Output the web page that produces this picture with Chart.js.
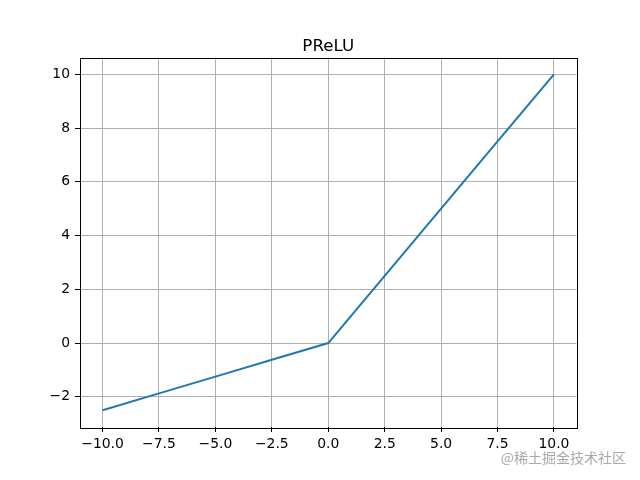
<!DOCTYPE html>
<html>
<head>
<meta charset="utf-8">
<script src="https://cdn.jsdelivr.net/npm/chart.js@4"></script>
<style>
  html, body { margin: 0; padding: 0; background: #fff; }
  #wrap { width: 640px; height: 480px; }
</style>
</head>
<body>
<div id="wrap"><canvas id="prelu" width="640" height="480"></canvas></div>
<script>
// data
const xValues = [-10, -7.5, -5, -2.5, 0, 2.5, 5, 7.5, 10];
const yValues = [-2.5, -1.875, -1.25, -0.625, 0, 2.5, 5, 7.5, 10];
const xTicks = [-10, -7.5, -5, -2.5, 0, 2.5, 5, 7.5, 10];
const yTicks = [-2, 0, 2, 4, 6, 8, 10];
const titleText = 'PReLU';

const fmtX = v => v.toFixed(1).replace('-', '\u2212');
const fmtY = v => String(v).replace('-', '\u2212');

// frame, title over the plot area and the watermark
const boxPlugin = {
  id: 'box',
  afterDraw(chart) {
    const a = chart.chartArea, c = chart.ctx;
    c.save();
    c.strokeStyle = '#000';
    c.lineWidth = 1;
    c.strokeRect(Math.round(a.left) + 0.5, Math.round(a.top) + 0.5,
      Math.round(a.right - a.left), Math.round(a.bottom - a.top));
    c.fillStyle = '#000';
    c.font = '16.7px "DejaVu Sans"';
    c.textAlign = 'center';
    c.textBaseline = 'alphabetic';
    c.fillText(titleText, (a.left + a.right) / 2, a.top - 7);
    c.fillStyle = 'rgba(160,160,160,0.9)';
    c.font = '14px "Noto Sans CJK SC", sans-serif';
    c.textAlign = 'right';
    c.textBaseline = 'middle';
    c.fillText('@稀土掘金技术社区', 626, 458);
    c.restore();
  }
};

const ctx = document.getElementById('prelu').getContext('2d');
const chart = new Chart(ctx, {
  type: 'line',
  plugins: [boxPlugin],
  data: {
    datasets: [{
      data: xValues.map((x, i) => ({ x: x, y: yValues[i] })),
      borderColor: '#1f77b4',
      borderWidth: 2,
      pointRadius: 0,
      tension: 0,
      fill: false
    }]
  },
  options: {
    responsive: false,
    animation: false,
    devicePixelRatio: 1,
    layout: { padding: { left: 0, right: 63.5, top: 57.5, bottom: 0 } },
    plugins: {
      legend: { display: false },
      tooltip: { enabled: false },
      title: { display: false }
    },
    scales: {
      x: {
        type: 'linear',
        min: -11,
        max: 11,
        afterBuildTicks: s => { s.ticks = xTicks.map(v => ({ value: v })); },
        afterFit: s => { s.height = 53; },
        grid: { color: '#b0b0b0', lineWidth: 1, tickColor: '#000', tickLength: 5 },
        border: { display: false },
        ticks: {
          color: '#000',
          padding: 4,
          maxRotation: 0,
          autoSkip: false,
          font: { family: 'DejaVu Sans', size: 13.9 },
          callback: v => fmtX(v)
        }
      },
      y: {
        type: 'linear',
        min: -3.125,
        max: 10.625,
        afterBuildTicks: s => { s.ticks = yTicks.map(v => ({ value: v })); },
        afterFit: s => { s.width = 80; },
        grid: { color: '#b0b0b0', lineWidth: 1, tickColor: '#000', tickLength: 5 },
        border: { display: false },
        ticks: {
          color: '#000',
          padding: 5,
          autoSkip: false,
          font: { family: 'DejaVu Sans', size: 13.9 },
          callback: v => fmtY(v)
        }
      }
    }
  }
});
</script>
</body>
</html>
